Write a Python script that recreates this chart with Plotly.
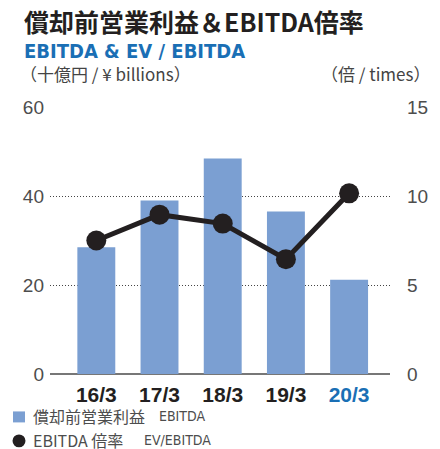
import plotly.graph_objects as go

categories = ["16/3", "17/3", "18/3", "19/3", "20/3"]
ebitda = [28.5, 39.0, 48.4, 36.5, 21.2]
ev_ebitda = [7.5, 8.95, 8.45, 6.45, 10.15]
left_ticks = [0, 20, 40, 60]
right_ticks = [0, 5, 10, 15]
cat_colors = ["#231f20", "#231f20", "#231f20", "#231f20", "#1a6fb5"]

BAR = "#7b9fd2"
LINE = "#231f20"
GRAY = "#4d4d4d"
SANS = "Liberation Sans, Arial, sans-serif"
CJK = "Noto Sans CJK JP, sans-serif"
NARROW = "Liberation Sans Narrow, DejaVu Sans Condensed, sans-serif"

W, H = 440, 449
ML, MR, MT, MB = 50, 50, 107, 74.5
PW, PH = W - ML - MR, H - MT - MB

xs = list(range(len(categories)))

fig = go.Figure()
fig.add_trace(go.Bar(x=xs, y=ebitda, width=0.6, marker=dict(color=BAR, line=dict(width=0)),
                     yaxis="y", showlegend=False))
fig.add_trace(go.Scatter(x=xs, y=ev_ebitda, mode="lines+markers", yaxis="y2",
                         line=dict(color=LINE, width=5),
                         marker=dict(color=LINE, size=20), showlegend=False))

ticktext = [f"<span style='color:{c}'><b>{t}</b></span>" for t, c in zip(categories, cat_colors)]

fig.update_layout(
    width=W, height=H,
    margin=dict(l=ML, r=MR, t=MT, b=MB, pad=0),
    paper_bgcolor="white", plot_bgcolor="white",
    xaxis=dict(range=[-0.733, 4.647], tickvals=xs, ticktext=ticktext,
               tickfont=dict(family=SANS, size=21, color=LINE),
               showgrid=False, zeroline=False, showline=False, ticks="", ticklabelstandoff=6,
               fixedrange=True),
    yaxis=dict(range=[0, 60], tickvals=left_ticks, showgrid=True, gridcolor="#444444",
               griddash="1px,2px", gridwidth=1, zeroline=True, zerolinecolor="#777777",
               zerolinewidth=1.5, showline=False, ticks="",
               tickfont=dict(family=SANS, size=19, color=GRAY), ticklabelstandoff=5),
    yaxis2=dict(range=[0, 15], tickvals=right_ticks, overlaying="y", side="right",
                showgrid=False, zeroline=False, showline=False, ticks="",
                tickfont=dict(family=SANS, size=19, color=GRAY), ticklabelstandoff=16),
    bargap=0.4,
)


def px(x, y):
    return (x - ML) / PW, 1 - (y - MT) / PH


title_html = ("<span style='font-family:Noto Sans CJK JP;font-size:25px;color:#231f20'>"
              "<b>償却前営業利益＆EBITDA倍率</b></span><br>"
              "<span style='color:#1a6fb5'><b>EBITDA & EV / EBITDA</b></span>")

anns = [
    dict(text=title_html, x=22, y=33, align="left", font=dict(family=NARROW, size=20, color="#1a6fb5")),
    dict(text="（十億円 / ¥ billions）", x=18, y=73.5, font=dict(family=CJK, size=17, color="#444444")),
    dict(text="（倍 / times）", x=432, y=73.5, xanchor="right", font=dict(family=CJK, size=17, color="#444444")),
    dict(text="償却前営業利益", x=31, y=417, font=dict(family=CJK, size=16, color=GRAY)),
    dict(text="EBITDA", x=157, y=417, font=dict(family=NARROW, size=14, color=GRAY)),
    dict(text="EBITDA 倍率", x=31, y=441, font=dict(family=CJK, size=16, color=GRAY)),
    dict(text="EV/EBITDA", x=142, y=441, font=dict(family=NARROW, size=14, color=GRAY)),
]
for a in anns:
    ax, ay = px(a["x"], a["y"])
    fig.add_annotation(text=a["text"], x=ax, y=ay, xref="paper", yref="paper",
                       xanchor=a.get("xanchor", "left"), yanchor="middle", showarrow=False,
                       align=a.get("align", "center"), font=a["font"])

# legend icons
x0, y0 = px(13, 412)
x1, y1 = px(25, 423)
fig.add_shape(type="rect", xref="paper", yref="paper", x0=x0, x1=x1, y0=y1, y1=y0,
              fillcolor=BAR, line=dict(width=0))
x0, y0 = px(12.5, 435)
x1, y1 = px(25.5, 448)
fig.add_shape(type="circle", xref="paper", yref="paper", x0=x0, x1=x1, y0=y1, y1=y0,
              fillcolor=LINE, line=dict(width=0))

fig.write_html("out.html", config={"displayModeBar": False},
               post_script="document.body.style.margin='0';")
